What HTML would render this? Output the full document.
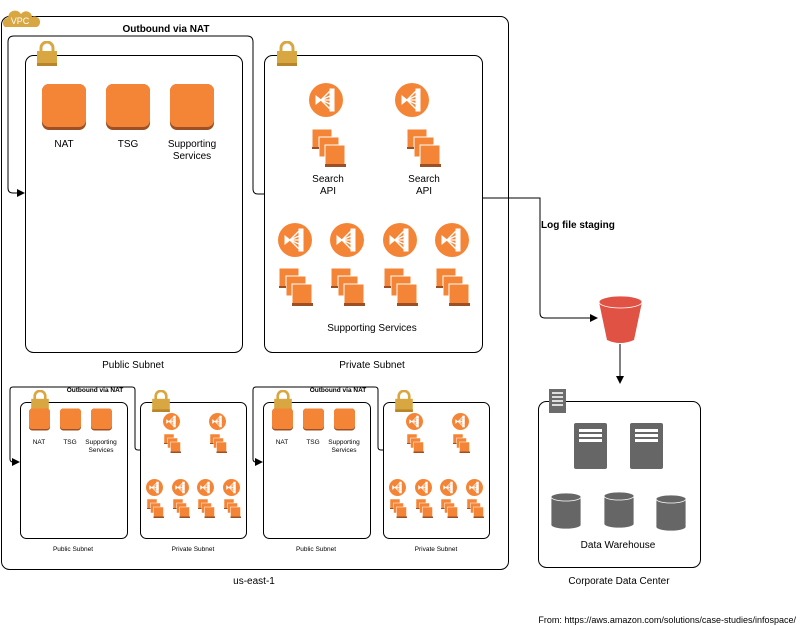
<!DOCTYPE html>
<html><head><meta charset="utf-8"><style>
body{margin:0;background:#fff}
svg{display:block;font-family:"Liberation Sans",Arial,sans-serif}
</style></head><body>
<svg width="800" height="626" viewBox="0 0 800 626" xmlns="http://www.w3.org/2000/svg">
<defs>
<marker id="ar" markerWidth="8" markerHeight="8" refX="7" refY="4" orient="auto" markerUnits="userSpaceOnUse"><path d="M0,0 L8,4 L0,8z" fill="#000"/></marker>
<symbol id="lock" viewBox="0 0 20 25"><path d="M4,11 V7 a6,6 0 0 1 12,0 V11" fill="none" stroke="#d9a741" stroke-width="3"/><rect x="0" y="10" width="20" height="15" fill="#d9a741"/><rect x="0" y="22" width="20" height="3" fill="#b8862a"/></symbol>
<symbol id="sq" viewBox="0 0 44 46"><rect x="0" y="0" width="44" height="46" rx="7" fill="#9d5025"/><rect x="0" y="0" width="44" height="43" rx="7" fill="#f58536"/></symbol>
<symbol id="lb" viewBox="0 0 34 34"><circle cx="17" cy="17" r="17" fill="#f58536"/><g fill="#fff" stroke="#fff"><path d="M7,13 L12,17 L7,21z"/><path d="M12,17 L21,8 M12,17 L21,13 M12,17 L21,21 M12,17 L21,26 M12,17 H21" stroke-width="1.3" fill="none"/><rect x="21" y="6" width="4" height="4"/><rect x="21" y="11" width="4" height="4"/><rect x="21" y="15" width="4" height="4"/><rect x="21" y="19" width="4" height="4"/><rect x="21" y="24" width="4" height="4"/></g></symbol>
<symbol id="stk" viewBox="0 0 34 38"><g stroke="#fff" stroke-width="1"><rect x="0" y="0" width="20" height="20" fill="#f58536"/><rect x="7" y="8" width="20" height="20" fill="#f58536"/><rect x="13" y="16" width="20" height="21" fill="#f58536"/></g><rect x="0" y="18" width="7" height="2" fill="#9d5025"/><rect x="13" y="35" width="21" height="3" fill="#9d5025"/></symbol>
</defs>
<rect x="1.5" y="16.5" width="507" height="553" rx="8" fill="none" stroke="#000"/>
<path d="M5,27 a5,5 0 0 1 3,-9 a7,7 0 0 1 13,-4 a6,6 0 0 1 11,3 a5,5 0 0 1 5,10z" fill="#d9a741"/>
<text x="20" y="24" font-size="9" fill="#fff" text-anchor="middle">VPC</text>
<path d="M264,194 H258 q-5,0 -5,-5 V42 q0,-6 -6,-6 H14 q-6,0 -6,6 V188 q0,5 5,5 H24" fill="none" stroke="#000" marker-end="url(#ar)"/>
<text x="166" y="32" font-size="10" font-weight="bold" text-anchor="middle">Outbound via NAT</text>
<rect x="25.5" y="55.5" width="217" height="297" rx="8" fill="#fff" stroke="#000"/>
<use href="#lock" x="37" y="41" width="20" height="25"/>
<use href="#sq" x="42" y="84" width="44" height="46"/>
<use href="#sq" x="106" y="84" width="44" height="46"/>
<use href="#sq" x="170" y="84" width="44" height="46"/>
<g font-size="10" text-anchor="middle"><text x="64" y="147">NAT</text><text x="128" y="147">TSG</text><text x="192" y="147">Supporting</text><text x="192" y="159">Services</text>
<text x="133" y="368">Public Subnet</text><text x="372" y="368">Private Subnet</text></g>
<rect x="264.5" y="55.5" width="218" height="297" rx="8" fill="#fff" stroke="#000"/>
<use href="#lock" x="277" y="41" width="20" height="25"/>
<use href="#lb" x="309" y="83" width="34" height="34"/><use href="#lb" x="395" y="83" width="34" height="34"/>
<use href="#stk" x="312" y="129" width="34" height="38"/><use href="#stk" x="407" y="129" width="34" height="38"/>
<g font-size="10" text-anchor="middle"><text x="328" y="182">Search</text><text x="328" y="194">API</text><text x="424" y="182">Search</text><text x="424" y="194">API</text><text x="372" y="331">Supporting Services</text></g>
<use href="#lb" x="278" y="223" width="34" height="34"/><use href="#lb" x="330" y="223" width="34" height="34"/><use href="#lb" x="383" y="223" width="34" height="34"/><use href="#lb" x="435" y="223" width="34" height="34"/>
<use href="#stk" x="279" y="268" width="34" height="38"/><use href="#stk" x="331" y="268" width="34" height="38"/><use href="#stk" x="384" y="268" width="34" height="38"/><use href="#stk" x="436" y="268" width="34" height="38"/>
<path d="M482,198 H540 V313 q0,5 5,5 H597" fill="none" stroke="#000" marker-end="url(#ar)"/>
<text x="541" y="228" font-size="10" font-weight="bold">Log file staging</text>
<path d="M599,302 L607,340 Q620,346 634,340 L642,302z" fill="#e05243"/>
<ellipse cx="620.5" cy="302" rx="21.5" ry="6" fill="#e05243" stroke="#fff" stroke-width="0.8"/>
<path d="M620,344 V383" stroke="#000" marker-end="url(#ar)"/>
<rect x="538.5" y="401.5" width="162" height="166" rx="8" fill="#fff" stroke="#000"/>
<rect x="549" y="389" width="17" height="24" fill="#6b6b6b"/>
<g fill="#ddd"><rect x="552" y="392" width="11" height="2"/><rect x="552" y="396" width="11" height="2"/><rect x="552" y="400" width="11" height="2"/><rect x="552" y="404" width="11" height="2"/></g>
<g fill="#666"><rect x="574" y="423" width="33" height="46" rx="2"/><rect x="630" y="423" width="33" height="46" rx="2"/></g>
<g fill="#fff"><rect x="579" y="429" width="23" height="3"/><rect x="579" y="434" width="23" height="3"/><rect x="579" y="439" width="23" height="3"/><rect x="635" y="429" width="23" height="3"/><rect x="635" y="434" width="23" height="3"/><rect x="635" y="439" width="23" height="3"/></g>
<g fill="#666" stroke="#fff" stroke-width="0.8"><path d="M551,497 V525 a15,4 0 0 0 30,0 V497"/><ellipse cx="566" cy="497" rx="15" ry="4"/><path d="M604,496 V524 a15,4 0 0 0 30,0 V496"/><ellipse cx="619" cy="496" rx="15" ry="4"/><path d="M656,499 V527 a15,4 0 0 0 30,0 V499"/><ellipse cx="671" cy="499" rx="15" ry="4"/></g>
<g font-size="10" text-anchor="middle"><text x="618" y="548">Data Warehouse</text><text x="619" y="584">Corporate Data Center</text><text x="254" y="584">us-east-1</text></g>
<text x="796" y="623" font-size="9" text-anchor="end">From: https://aws.amazon.com/solutions/case-studies/infospace/</text>
<g id="bset">
<path d="M140,450 H138 q-3,0 -3,-3 V390 q0,-3 -3,-3 H13 q-3,0 -3,3 V459 q0,3 3,3 H19" fill="none" stroke="#000" marker-end="url(#ar)"/>
<text x="95" y="392" font-size="6.5" font-weight="bold" text-anchor="middle">Outbound via NAT</text>
<rect x="20.5" y="402.5" width="107" height="136" rx="6" fill="#fff" stroke="#000"/>
<use href="#lock" x="31" y="390" width="18" height="22"/>
<use href="#sq" x="29" y="408" width="21" height="23"/><use href="#sq" x="60" y="408" width="21" height="23"/><use href="#sq" x="91" y="408" width="21" height="23"/>
<g font-size="6.5" text-anchor="middle"><text x="39" y="444">NAT</text><text x="70" y="444">TSG</text><text x="101" y="444">Supporting</text><text x="101" y="452">Services</text>
<text x="73" y="551">Public Subnet</text><text x="193" y="551">Private Subnet</text>
<text x="172" y="464">Search</text><text x="172" y="472">API</text><text x="218" y="464">Search</text><text x="218" y="472">API</text><text x="193" y="530">Supporting Services</text></g>
<rect x="140.5" y="402.5" width="106" height="136" rx="6" fill="#fff" stroke="#000"/>
<use href="#lock" x="152" y="390" width="18" height="22"/>
<use href="#lb" x="163" y="413" width="17" height="17"/><use href="#lb" x="209" y="413" width="17" height="17"/>
<use href="#stk" x="164" y="434" width="17" height="19"/><use href="#stk" x="210" y="434" width="17" height="19"/>
<use href="#lb" x="146" y="479" width="17" height="17"/><use href="#lb" x="172" y="479" width="17" height="17"/><use href="#lb" x="197" y="479" width="17" height="17"/><use href="#lb" x="223" y="479" width="17" height="17"/>
<use href="#stk" x="147" y="499" width="17" height="19"/><use href="#stk" x="173" y="499" width="17" height="19"/><use href="#stk" x="198" y="499" width="17" height="19"/><use href="#stk" x="224" y="499" width="17" height="19"/>
</g>
<use href="#bset" x="243" y="0"/>
</svg>
</body></html>
